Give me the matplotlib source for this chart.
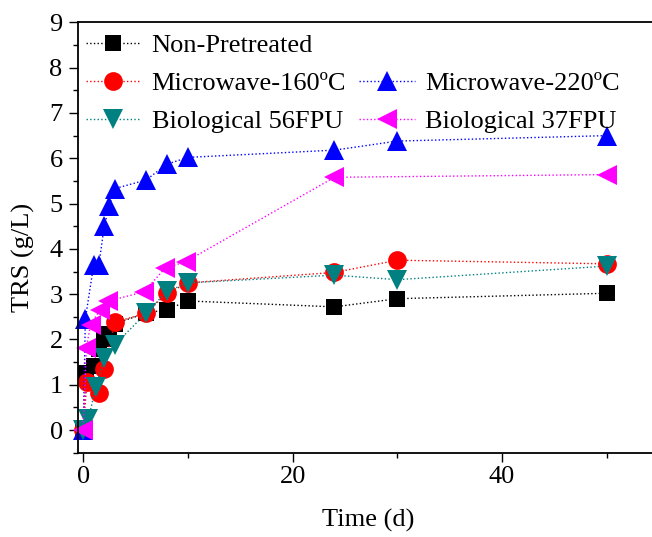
import matplotlib
matplotlib.use("Agg")
import matplotlib.pyplot as plt
from matplotlib.ticker import MultipleLocator
from matplotlib.lines import Line2D

plt.rcParams['font.family'] = ['Liberation Serif', 'DejaVu Serif']
plt.rcParams['font.size'] = 19

# Data
t_non = [0, 0.25, 1, 1.5, 2, 2.5, 3, 6, 8, 10, 24, 30, 50]
v_non = [0, 1.25, 1.42, 1.78, 2.0, 2.12, 2.35, 2.58, 2.66, 2.85, 2.72, 2.90, 3.02]

t_m160 = [0, 0.35, 1.5, 2, 3, 6, 8, 10, 24, 30, 50]
v_m160 = [0, 1.05, 0.82, 1.35, 2.38, 2.58, 3.02, 3.25, 3.48, 3.75, 3.67]

t_m220 = [0, 0.2, 1, 1.5, 2, 2.5, 3, 6, 8, 10, 24, 30, 50]
v_m220 = [0, 2.45, 3.65, 3.65, 4.50, 4.95, 5.33, 5.52, 5.87, 6.02, 6.18, 6.38, 6.50]

t_b56 = [0, 0.5, 1.2, 2, 3, 6, 8, 10, 24, 30, 50]
v_b56 = [0, 0.25, 0.95, 1.58, 1.88, 2.58, 3.06, 3.25, 3.42, 3.32, 3.62]

t_b37 = [0, 0.3, 0.7, 1.6, 2.4, 5.8, 7.8, 9.8, 24, 50]
v_b37 = [0, 1.82, 2.33, 2.65, 2.85, 3.05, 3.57, 3.72, 5.58, 5.64]

labels = ["Non-Pretreated", "Microwave-160ºC", "Microwave-220ºC",
          "Biological 56FPU", "Biological 37FPU"]

fig = plt.figure(figsize=(6.52, 5.37), dpi=100)
ax = fig.add_axes([78/652, 1-452.7/537, 581/652, 430.3/537])

series = [
    (t_non, v_non, 's', 'black', 12),
    (t_m160, v_m160, 'o', 'red', 13.5),
    (t_m220, v_m220, '^', 'blue', 15),
    (t_b56, v_b56, 'v', '#008080', 15),
    (t_b37, v_b37, '<', 'magenta', 15),
]
handles = []
for (t, v, m, c, ms), lab in zip(series, labels):
    h, = ax.plot(t, v, linestyle=':', linewidth=1.0, color=c, marker=m,
                 markersize=ms, markeredgewidth=0, label=lab, clip_on=False)
    handles.append(h)

blank = Line2D([], [], linestyle='none', marker=None)
leg_handles = [handles[0], handles[1], handles[3], blank, handles[2], handles[4]]
leg_labels = [labels[0], labels[1], labels[3], '', labels[2], labels[4]]
ax.legend(leg_handles, leg_labels, ncol=2, loc='upper left',
          bbox_to_anchor=(-0.0095, 1.004), frameon=False, borderpad=0,
          handlelength=2.1, handletextpad=0.4, columnspacing=0.5,
          labelspacing=0.55, fontsize=19, markerscale=1.0)

ax.set_xlim(-0.5, 55)
ax.set_ylim(-0.5, 9)
ax.xaxis.set_major_locator(MultipleLocator(20))
ax.xaxis.set_minor_locator(MultipleLocator(10))
ax.yaxis.set_major_locator(MultipleLocator(1))
ax.yaxis.set_minor_locator(MultipleLocator(0.5))

ax.tick_params(axis='both', which='major', direction='out', length=6.5, width=1.0, labelsize=19)
ax.tick_params(axis='both', which='minor', direction='out', length=3.5, width=1.0)
ax.tick_params(axis='x', which='both', pad=3)
ax.tick_params(axis='y', which='both', pad=4.5)

for s in ['left', 'bottom', 'top']:
    ax.spines[s].set_linewidth(1.3)
ax.spines['right'].set_visible(False)

ax.set_xlabel("Time (d)", fontsize=19)
ax.set_ylabel("TRS (g/L)", fontsize=19)
ax.xaxis.set_label_coords(0.5, -0.131)
ax.yaxis.set_label_coords(-0.074, 0.453)

fig.savefig("out.png", dpi=100)
